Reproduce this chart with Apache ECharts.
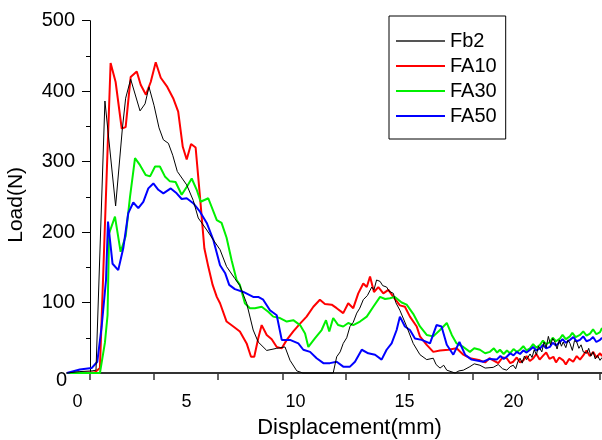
<!DOCTYPE html>
<html><head><meta charset="utf-8">
<script src="https://cdn.jsdelivr.net/npm/echarts@6/dist/echarts.min.js"></script>
<style>html,body{margin:0;padding:0;background:#fff}#c{width:602px;height:440px}</style>
</head><body><div id="c"></div>
<script>
const seriesNames = ['Fb2', 'FA10', 'FA30', 'FA50'];
const seriesColors = ['#000000', '#ff0000', '#00f000', '#0000ff'];

const fb2 = [[-0.48,0],[0.11,2],[0.67,3],[0.85,4],[1.26,386],[1.75,237],[2.06,347],[2.21,390],[2.44,417],[2.87,372],[3.10,382],[3.28,406],[3.51,380],[3.74,348],[3.94,331],[4.17,326],[4.37,309],[4.58,286],[5.01,267],[5.31,245],[5.54,220],[5.93,203],[6.23,189],[6.54,175],[6.84,151],[7.22,134],[7.45,124],[7.76,99],[8.06,61],[8.29,44],[8.68,32],[9.14,35],[9.52,37],[9.75,18],[10.06,3],[10.34,0],[11.73,0],[11.89,23],[12.05,30],[12.19,42],[12.35,50],[12.50,66],[12.65,72],[12.81,85],[12.95,92],[13.11,104],[13.3,110],[13.50,122],[13.6,118],[13.72,132],[13.88,130],[14.0,124],[14.18,122],[14.3,116],[14.49,113],[14.6,100],[14.79,89],[15.10,66],[15.40,42],[15.71,26],[16.02,19],[16.32,21],[16.45,12],[16.63,7],[16.8,11],[16.94,4],[17.32,0],[17.5,3],[17.70,4],[18.00,9],[18.2,13],[18.46,11],[18.7,7],[19.07,8],[19.3,12],[19.5,6],[19.69,4],[19.85,9],[19.99,11],[20.1,6],[20.2,16],[20.3,21],[20.4,14],[20.5,24],[20.6,19],[20.76,27],[20.85,22],[20.95,33],[21.05,26],[21.15,38],[21.22,37],[21.3,30],[21.4,44],[21.5,36],[21.6,52],[21.7,40],[21.8,49],[21.9,44],[22.0,34],[22.1,47],[22.2,38],[22.28,44],[22.4,36],[22.5,47],[22.59,42],[22.7,32],[22.8,46],[22.9,44],[23.0,35],[23.1,40],[23.2,30],[23.36,28],[23.45,35],[23.55,24],[23.65,30],[23.75,20],[23.85,25],[23.97,18],[24.06,22]];

const fa10 = [[-0.48,0],[0.80,1],[1.03,7],[1.52,440],[1.75,413],[2.03,347],[2.21,349],[2.44,420],[2.72,428],[2.90,409],[3.14,395],[3.36,413],[3.59,441],[3.82,419],[4.12,406],[4.39,390],[4.62,371],[4.83,321],[5.01,303],[5.21,325],[5.42,320],[5.62,250],[5.82,177],[6.00,151],[6.20,125],[6.39,108],[6.54,99],[6.84,73],[7.15,66],[7.45,59],[7.76,42],[7.96,23],[8.11,23],[8.29,49],[8.45,68],[8.68,54],[8.91,48],[9.14,37],[9.37,35],[9.60,47],[9.90,59],[10.21,70],[10.51,80],[10.82,94],[11.12,104],[11.35,98],[11.66,97],[11.89,92],[12.19,85],[12.42,99],[12.65,92],[12.88,113],[13.11,127],[13.27,122],[13.42,137],[13.60,115],[13.80,122],[14.03,113],[14.26,118],[14.49,108],[14.79,96],[15.02,94],[15.25,80],[15.56,66],[15.71,52],[16.02,40],[16.32,30],[16.63,32],[17.01,33],[17.39,35],[17.70,26],[18.00,21],[18.46,18],[18.7,15],[18.9,21],[19.07,18],[19.3,14],[19.5,22],[19.69,21],[19.85,14],[19.99,16],[20.15,22],[20.3,15],[20.45,18],[20.6,24],[20.75,17],[20.91,21],[21.05,27],[21.2,19],[21.37,25],[21.5,29],[21.65,20],[21.83,23],[21.95,15],[22.1,22],[22.28,18],[22.4,12],[22.55,20],[22.74,16],[22.9,24],[23.05,19],[23.2,25],[23.35,32],[23.5,24],[23.66,30],[23.8,22],[23.97,28],[24.06,24]];

const fa30 = [[-0.48,0],[1.03,0],[1.26,43],[1.38,82],[1.45,198],[1.72,222],[1.98,172],[2.21,194],[2.41,250],[2.64,305],[2.87,295],[3.13,281],[3.33,279],[3.56,293],[3.78,293],[4.01,279],[4.24,272],[4.50,271],[4.78,253],[5.01,264],[5.24,276],[5.47,260],[5.65,243],[6.00,248],[6.39,217],[6.61,213],[6.84,192],[7.07,160],[7.30,132],[7.45,125],[7.68,99],[7.91,92],[8.14,92],[8.45,94],[8.75,87],[8.98,80],[9.29,78],[9.60,73],[9.90,75],[10.21,68],[10.44,56],[10.59,37],[10.89,49],[11.20,61],[11.40,75],[11.55,59],[11.73,78],[11.96,68],[12.19,66],[12.42,71],[12.65,68],[12.96,73],[13.27,80],[13.57,94],[13.88,108],[14.11,105],[14.33,106],[14.56,108],[14.87,100],[15.10,97],[15.40,84],[15.71,66],[16.02,54],[16.32,52],[16.63,61],[16.94,71],[17.17,54],[17.39,42],[17.70,37],[18.00,30],[18.2,35],[18.46,33],[18.7,28],[18.92,30],[19.1,35],[19.25,29],[19.38,33],[19.55,27],[19.7,32],[19.84,28],[20.0,34],[20.15,30],[20.3,33],[20.45,38],[20.6,32],[20.76,35],[20.9,41],[21.05,36],[21.22,40],[21.35,46],[21.5,41],[21.67,44],[21.8,50],[21.95,45],[22.13,49],[22.25,54],[22.4,48],[22.59,52],[22.7,57],[22.85,51],[23.05,54],[23.2,59],[23.35,53],[23.51,56],[23.65,62],[23.8,55],[23.97,58],[24.06,64]];

const fa50 = [[-0.48,0],[0.11,5],[0.65,7],[0.91,16],[1.11,66],[1.31,132],[1.40,215],[1.61,155],[1.87,146],[2.10,177],[2.33,227],[2.56,242],[2.79,234],[3.02,243],[3.25,262],[3.48,269],[3.71,260],[3.94,255],[4.28,262],[4.55,255],[4.78,247],[5.01,248],[5.31,241],[5.62,229],[5.93,213],[6.23,189],[6.54,153],[6.77,142],[6.96,125],[7.22,119],[7.61,115],[8.06,108],[8.29,108],[8.52,104],[8.83,89],[9.14,82],[9.37,47],[9.75,47],[10.13,42],[10.36,33],[10.67,30],[10.97,21],[11.28,14],[11.58,14],[11.89,16],[12.19,9],[12.50,9],[12.73,16],[13.04,33],[13.34,28],[13.65,26],[13.95,19],[14.18,33],[14.41,42],[14.64,61],[14.79,80],[15.02,66],[15.25,61],[15.48,49],[15.79,47],[16.17,42],[16.47,68],[16.70,66],[16.94,40],[17.24,26],[17.52,44],[17.78,26],[18.08,19],[18.61,16],[18.9,20],[19.23,19],[19.4,24],[19.55,20],[19.69,23],[19.85,28],[20.0,25],[20.15,30],[20.3,27],[20.45,32],[20.6,29],[20.76,33],[20.9,37],[21.05,32],[21.22,35],[21.35,40],[21.5,35],[21.67,37],[21.8,43],[21.95,39],[22.13,44],[22.25,48],[22.4,43],[22.59,47],[22.75,51],[22.9,45],[23.05,47],[23.2,52],[23.35,45],[23.51,47],[23.65,51],[23.8,44],[23.97,47],[24.06,50]];

const xLabelValues = [0, 5, 10, 15, 20];
const xTickValues = [0.573, 3.509, 6.445, 9.427, 12.317, 15.206, 18.142, 21.124, 23.968];
const yLabelValues = [0, 100, 200, 300, 400, 500];

const FONT = '"Liberation Sans", Arial, sans-serif';
const chart = echarts.init(document.getElementById('c'), null, {renderer: 'canvas'});
const dataByName = {Fb2: fb2, FA10: fa10, FA30: fa30, FA50: fa50};
const drawOrder = ['FA10', 'FA30', 'FA50', 'Fb2'];

const option = {
  animation: false,
  backgroundColor: '#ffffff',
  grid: {left: 67, right: 0, top: 20.7, bottom: 67, containLabel: false, outerBoundsMode: 'none'},
  legend: {
    orient: 'vertical', left: 389, top: 16,
    data: seriesNames.map((n, i) => ({
      name: n, icon: 'rect',
      itemStyle: {color: i === 0 ? '#555555' : seriesColors[i], borderWidth: 0}
    })),
    padding: [15, 9, 13, 7], itemGap: 5, itemWidth: 49, itemHeight: 2,
    borderColor: '#000', borderWidth: 1, borderRadius: 0, backgroundColor: '#fff',
    textStyle: {fontSize: 20, color: '#000', fontFamily: FONT, lineHeight: 20}
  },
  xAxis: {
    type: 'value', min: -0.48, max: 24.06,
    name: 'Displacement(mm)', nameLocation: 'middle', nameGap: 44,
    nameTextStyle: {fontSize: 22, color: '#000', fontFamily: FONT, padding: [0, 0, 0, 30]},
    axisLine: {onZero: false, lineStyle: {color: '#333', width: 2}},
    axisTick: {show: true, customValues: xTickValues, length: 7, lineStyle: {color: '#333', width: 1.5}},
    axisLabel: {customValues: xLabelValues, margin: 20, fontSize: 18, color: '#000', fontFamily: FONT},
    splitLine: {show: false}
  },
  yAxis: {
    type: 'value', min: 0, max: 500, interval: 100, offset: -23,
    name: 'Load(N)', nameLocation: 'middle', nameGap: 63, nameRotate: 90,
    nameTextStyle: {fontSize: 21, color: '#000', fontFamily: FONT, padding: [0, 16, 0, 0]},
    axisLine: {onZero: false, lineStyle: {color: '#000', width: 1}},
    axisTick: {show: true, length: 8, lineStyle: {color: '#000', width: 1}},
    minorTick: {show: true, splitNumber: 2, length: 4, lineStyle: {color: '#000', width: 1}},
    axisLabel: {
      customValues: yLabelValues, margin: 15, fontSize: 20, color: '#000', fontFamily: FONT,
      formatter: v => v === 0 ? '{z|0}' : String(v),
      rich: {z: {fontSize: 20, color: '#000', fontFamily: FONT, padding: [15, 8, 0, 0]}}
    },
    splitLine: {show: false}
  },
  series: drawOrder.map(n => {
    const i = seriesNames.indexOf(n);
    return {
      name: n, type: 'line', data: dataByName[n], symbol: 'none', showSymbol: false,
      clip: false, color: seriesColors[i],
      lineStyle: {color: seriesColors[i], width: n === 'Fb2' ? 1 : 2}
    };
  })
};
chart.setOption(option);
</script></body></html>
